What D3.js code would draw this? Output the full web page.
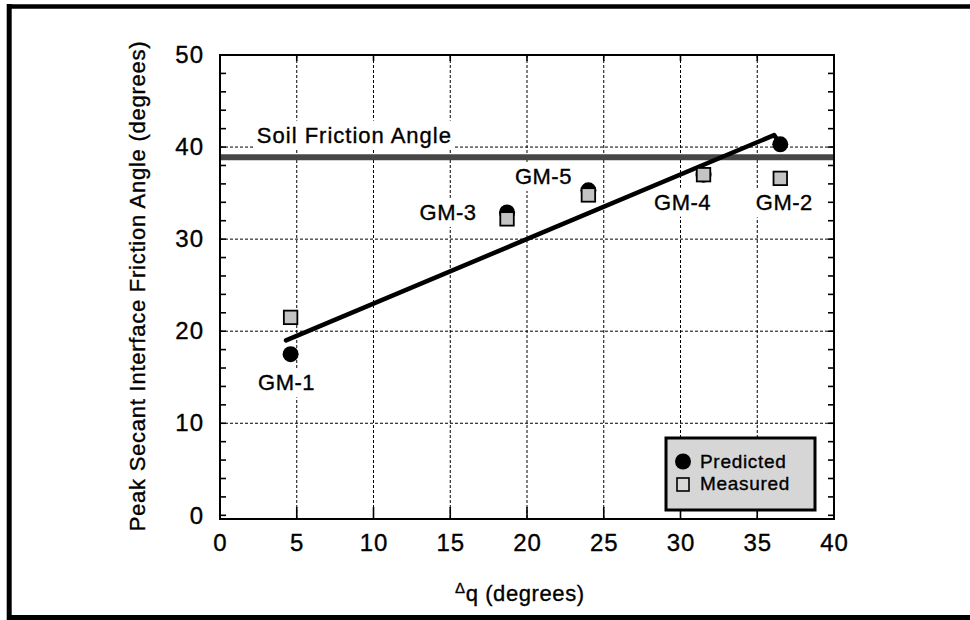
<!DOCTYPE html>
<html>
<head>
<meta charset="utf-8">
<script src="https://cdn.jsdelivr.net/npm/d3@7"></script>
<style>
  html, body { margin: 0; padding: 0; background: #fff; }
  svg { display: block; font-family: "Liberation Sans", Arial, Helvetica, sans-serif; }
  svg text { stroke: #000; stroke-width: 0.35px; }
</style>
</head>
<body>
<svg id="chart" width="970" height="620"></svg>
<script>
// Geomembrane specimens: interface friction vs. surface asperity measure
const specimens = ["GM-1", "GM-2", "GM-3", "GM-4", "GM-5"];
const deltaQ    = [4.6, 36.5, 18.7, 31.5, 24.0];
const predicted = [17.5, 40.3, 32.9, 37.0, 35.3];
const measured  = [21.5, 36.6, 32.2, 37.0, 34.8];

// Soil friction angle reference level
const soilFrictionAngle = 38.9;

// Trend line through the predictions
const fitX = [4.3, 36.1, 36.5];
const fitY = [19.0, 41.3, 40.3];

// Axis ticks
const xTicks = [0, 5, 10, 15, 20, 25, 30, 35, 40];
const yTicks = [0, 10, 20, 30, 40, 50];
const yMinorTicks = d3.range(0, 51, 2);

const svg = d3.select("#chart");
const W = 970, H = 620;
const plot = { left: 220, right: 834, top: 55, bottom: 519 };

const x = d3.scaleLinear().domain([0, 40]).range([plot.left, plot.right]);
const y = d3.scaleLinear().domain([-0.4, 50]).range([plot.bottom, plot.top]);

// Outer frame
svg.append("line").attr("x1", 7).attr("x2", W).attr("y1", 6.5).attr("y2", 6.5)
  .attr("stroke", "#000").attr("stroke-width", 4.5);
svg.append("line").attr("x1", 9.2).attr("x2", 9.2).attr("y1", 4).attr("y2", H)
  .attr("stroke", "#000").attr("stroke-width", 5);
svg.append("line").attr("x1", 7).attr("x2", W).attr("y1", 617.5).attr("y2", 617.5)
  .attr("stroke", "#000").attr("stroke-width", 5);

// Dotted grid
const grid = svg.append("g").attr("stroke", "#000").attr("stroke-width", 1)
  .attr("stroke-dasharray", "3,2").attr("fill", "none");
grid.selectAll("line.v").data(xTicks.filter(d => d > 0 && d < 40)).join("line")
  .attr("class", "v")
  .attr("x1", d => x(d)).attr("x2", d => x(d))
  .attr("y1", plot.top).attr("y2", plot.bottom);
grid.selectAll("line.h").data(yTicks.filter(d => d > 0 && d < 50)).join("line")
  .attr("class", "h")
  .attr("x1", plot.left).attr("x2", plot.right)
  .attr("y1", d => y(d)).attr("y2", d => y(d));

// Axes
const axisFont = 24;
const xAxis = d3.axisBottom(x).tickValues(xTicks).tickSize(0).tickPadding(15).tickFormat(d3.format("d"));
const gx = svg.append("g").attr("transform", `translate(0,${plot.bottom})`).call(xAxis);
gx.select(".domain").remove();
gx.selectAll("text").attr("font-size", axisFont).attr("fill", "#000")
  .attr("font-family", "Liberation Sans, Arial, sans-serif").attr("letter-spacing", 1)
  .attr("dy", "0.72em");

const yAxis = d3.axisLeft(y).tickValues(yTicks).tickSize(0).tickPadding(16).tickFormat(d3.format("d"));
const gy = svg.append("g").attr("transform", `translate(${plot.left},0)`).call(yAxis);
gy.select(".domain").remove();
gy.selectAll("text").attr("font-size", axisFont).attr("fill", "#000")
  .attr("font-family", "Liberation Sans, Arial, sans-serif").attr("letter-spacing", 1);

// Inward tick marks
const ticks = svg.append("g").attr("stroke", "#000").attr("stroke-width", 1.6);
ticks.selectAll("line.yl").data(yMinorTicks).join("line").attr("class", "yl")
  .attr("x1", plot.left).attr("x2", plot.left + 6)
  .attr("y1", d => y(d)).attr("y2", d => y(d));
ticks.selectAll("line.yr").data(yMinorTicks).join("line").attr("class", "yr")
  .attr("x1", plot.right).attr("x2", plot.right - 6)
  .attr("y1", d => y(d)).attr("y2", d => y(d));
ticks.selectAll("line.xb").data(xTicks).join("line").attr("class", "xb")
  .attr("x1", d => x(d)).attr("x2", d => x(d))
  .attr("y1", plot.bottom).attr("y2", plot.bottom - 12);
ticks.selectAll("line.xt").data(xTicks).join("line").attr("class", "xt")
  .attr("x1", d => x(d)).attr("x2", d => x(d))
  .attr("y1", plot.top).attr("y2", plot.top + 6);

// Plot frame
svg.append("rect")
  .attr("x", plot.left).attr("y", plot.top)
  .attr("width", plot.right - plot.left).attr("height", plot.bottom - plot.top)
  .attr("fill", "none").attr("stroke", "#000").attr("stroke-width", 2);

// Text labels with white backing that breaks the grid
function boxedText(parent, tx, ty, str, size, anchor, spacing) {
  const g = parent.append("g");
  const bg = g.append("rect").attr("fill", "#fff");
  const t = g.append("text").attr("x", tx).attr("y", ty)
    .attr("font-size", size).attr("text-anchor", anchor)
    .attr("letter-spacing", spacing).attr("fill", "#000").text(str);
  const b = t.node().getBBox();
  bg.attr("x", b.x - 3).attr("y", b.y - 2).attr("width", b.width + 6).attr("height", b.height + 4);
  return g;
}

const labels = svg.append("g");
boxedText(labels, x(2.4), y(40) - 4.5, "Soil Friction Angle", 22, "start", 1);

// Specimen label placement (pixel offsets from each measured marker)
const labelOffset = {
  "GM-1": [-4, 73], "GM-2": [4, 32], "GM-3": [-59, 1],
  "GM-4": [-21, 35], "GM-5": [-45, -11]
};
specimens.forEach((s, i) => {
  const [dx, dy] = labelOffset[s];
  boxedText(labels, x(deltaQ[i]) + dx, y(measured[i]) + dy, s, 22, "middle", 0.5);
});

// Soil friction angle band
svg.append("line")
  .attr("x1", plot.left + 1).attr("x2", plot.right - 1)
  .attr("y1", y(soilFrictionAngle)).attr("y2", y(soilFrictionAngle))
  .attr("stroke", "#474747").attr("stroke-width", 6);

// Trend line
const fitPts = fitX.map((d, i) => [d, fitY[i]]);
svg.append("path")
  .attr("d", d3.line().x(d => x(d[0])).y(d => y(d[1]))(fitPts))
  .attr("fill", "none").attr("stroke", "#000").attr("stroke-width", 4.5)
  .attr("stroke-linejoin", "round").attr("stroke-linecap", "round");

// Predicted (filled circles), then measured (shaded squares) on top
svg.append("g").selectAll("circle").data(specimens).join("circle")
  .attr("cx", (d, i) => x(deltaQ[i])).attr("cy", (d, i) => y(predicted[i]))
  .attr("r", 8).attr("fill", "#000");

const sq = 13.5;
svg.append("g").selectAll("rect").data(specimens).join("rect")
  .attr("x", (d, i) => x(deltaQ[i]) - sq / 2).attr("y", (d, i) => y(measured[i]) - sq / 2)
  .attr("width", sq).attr("height", sq)
  .attr("fill", "#c4c4c4").attr("stroke", "#000").attr("stroke-width", 1.8);

// Legend
const lg = svg.append("g").attr("transform", `translate(${plot.right - 168},${plot.bottom - 81})`);
lg.append("rect").attr("x", 0).attr("y", 0).attr("width", 149).attr("height", 72)
  .attr("fill", "#d6d6d6").attr("stroke", "#000").attr("stroke-width", 3);
lg.append("circle").attr("cx", 17).attr("cy", 23.5).attr("r", 8).attr("fill", "#000");
lg.append("text").attr("x", 34).attr("y", 30).attr("font-size", 19).attr("letter-spacing", 0.7)
  .attr("fill", "#000").text("Predicted");
lg.append("rect").attr("x", 11).attr("y", 40).attr("width", 12).attr("height", 13)
  .attr("fill", "#d8d8d8").attr("stroke", "#000").attr("stroke-width", 1.6);
lg.append("text").attr("x", 34).attr("y", 52).attr("font-size", 19).attr("letter-spacing", 0.7)
  .attr("fill", "#000").text("Measured");

// Axis titles
svg.append("text")
  .attr("transform", `translate(145,${(40 + 532) / 2}) rotate(-90)`)
  .attr("text-anchor", "middle").attr("font-size", 22).attr("letter-spacing", 0.75)
  .attr("fill", "#000")
  .text("Peak Secant Interface Friction Angle (degrees)");

const xt = svg.append("text").attr("x", 455).attr("y", 601).attr("font-size", 22)
  .attr("letter-spacing", 0.6).attr("fill", "#000");
xt.append("tspan").attr("font-size", 15).attr("dy", -8).text("Δ");
xt.append("tspan").attr("dy", 8).text("q");
xt.append("tspan").text(" (degrees)");
</script>
</body>
</html>
